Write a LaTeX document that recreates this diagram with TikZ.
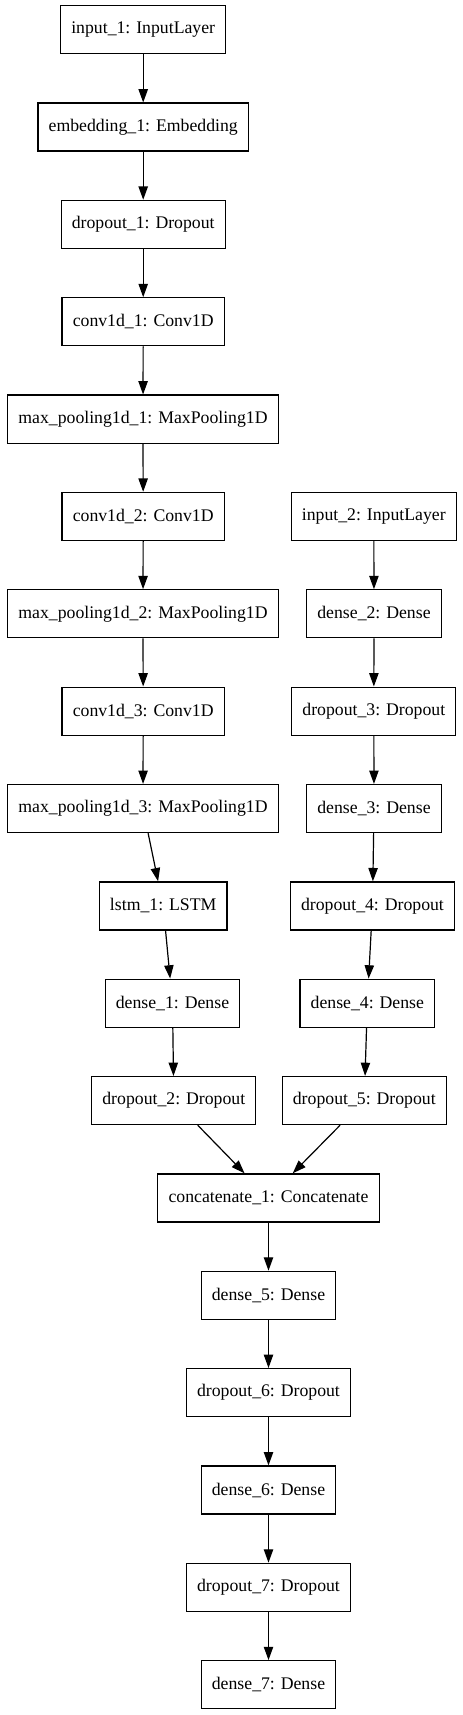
\documentclass[tikz,border=0pt]{standalone}
\usepackage{fontspec}
\setmainfont{Liberation Serif}
\usetikzlibrary{arrows.meta}

\begin{document}
\begin{tikzpicture}[x=0.75pt,y=0.75pt,yscale=-1,xscale=1,
  layer/.style={draw, line width=0.9pt, rectangle, minimum height=36pt, inner xsep=8pt, inner ysep=0pt, font=\fontsize{13.3}{16}\selectfont},
  flow/.style={line width=0.9pt, -{Triangle[length=10pt,width=7pt]}}]
\useasboundingbox (0,0) rectangle (463,1715);
                  % Text Node
                  \node [layer] (input1) at (143.2,29.7) {input\_1: InputLayer};
                  % Text Node
                  \node [layer] (embedding1) at (143.2,127.1) {embedding\_1: Embedding};
                  % Text Node
                  \node [layer] (dropout1) at (143.2,224.4) {dropout\_1: Dropout};
                  % Text Node
                  \node [layer] (conv1) at (143.2,321.8) {conv1d\_1: Conv1D};
                  % Text Node
                  \node [layer] (pool1) at (143.0,419.1) {max\_pooling1d\_1: MaxPooling1D};
                  % Text Node
                  \node [layer] (conv2) at (143.2,516.4) {conv1d\_2: Conv1D};
                  % Text Node
                  \node [layer] (pool2) at (143.0,613.8) {max\_pooling1d\_2: MaxPooling1D};
                  % Text Node
                  \node [layer] (conv3) at (143.2,711.1) {conv1d\_3: Conv1D};
                  % Text Node
                  \node [layer] (pool3) at (143.0,808.5) {max\_pooling1d\_3: MaxPooling1D};
                  % Text Node
                  \node [layer] (lstm1) at (163.2,905.9) {lstm\_1: LSTM};
                  % Text Node
                  \node [layer] (dense1) at (172.5,1003.2) {dense\_1: Dense};
                  % Text Node
                  \node [layer] (dropout2) at (173.8,1100.6) {dropout\_2: Dropout};
                  % Text Node
                  \node [layer] (input2) at (373.8,516.4) {input\_2: InputLayer};
                  % Text Node
                  \node [layer] (dense2) at (374.0,613.8) {dense\_2: Dense};
                  % Text Node
                  \node [layer] (dropout3) at (373.8,711.1) {dropout\_3: Dropout};
                  % Text Node
                  \node [layer] (dense3) at (374.0,808.5) {dense\_3: Dense};
                  % Text Node
                  \node [layer] (dropout4) at (372.5,905.9) {dropout\_4: Dropout};
                  % Text Node
                  \node [layer] (dense4) at (367.3,1003.2) {dense\_4: Dense};
                  % Text Node
                  \node [layer] (dropout5) at (364.3,1100.6) {dropout\_5: Dropout};
                  % Text Node
                  \node [layer] (concat1) at (268.5,1197.9) {concatenate\_1: Concatenate};
                  % Text Node
                  \node [layer] (dense5) at (268.5,1295.3) {dense\_5: Dense};
                  % Text Node
                  \node [layer] (dropout6) at (268.5,1392.6) {dropout\_6: Dropout};
                  % Text Node
                  \node [layer] (dense6) at (268.5,1490.0) {dense\_6: Dense};
                  % Text Node
                  \node [layer] (dropout7) at (268.5,1587.3) {dropout\_7: Dropout};
                  % Text Node
                  \node [layer] (dense7) at (268.5,1684.7) {dense\_7: Dense};
                  % Connection
                  \draw [flow] (input1) -- (embedding1);
                  \draw [flow] (embedding1) -- (dropout1);
                  \draw [flow] (dropout1) -- (conv1);
                  \draw [flow] (conv1) -- (pool1);
                  \draw [flow] (pool1) -- (conv2);
                  \draw [flow] (conv2) -- (pool2);
                  \draw [flow] (pool2) -- (conv3);
                  \draw [flow] (conv3) -- (pool3);
                  \draw [flow] (pool3) -- (lstm1);
                  \draw [flow] (lstm1) -- (dense1);
                  \draw [flow] (dense1) -- (dropout2);
                  % Connection
                  \draw [flow] (input2) -- (dense2);
                  \draw [flow] (dense2) -- (dropout3);
                  \draw [flow] (dropout3) -- (dense3);
                  \draw [flow] (dense3) -- (dropout4);
                  \draw [flow] (dropout4) -- (dense4);
                  \draw [flow] (dense4) -- (dropout5);
                  % Connection
                  \draw [flow] (dropout2) -- (concat1);
                  \draw [flow] (dropout5) -- (concat1);
                  \draw [flow] (concat1) -- (dense5);
                  \draw [flow] (dense5) -- (dropout6);
                  \draw [flow] (dropout6) -- (dense6);
                  \draw [flow] (dense6) -- (dropout7);
                  \draw [flow] (dropout7) -- (dense7);
\end{tikzpicture}
\end{document}
